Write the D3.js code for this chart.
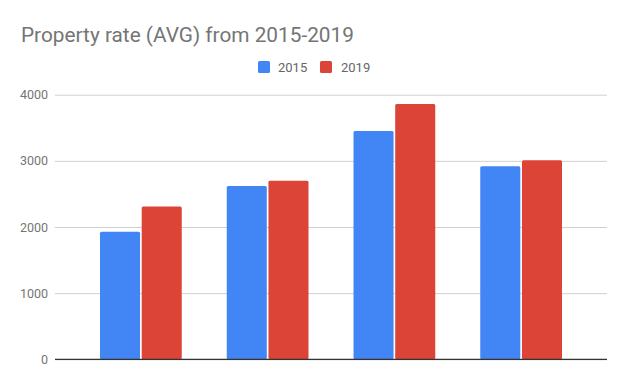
<!DOCTYPE html>
<html>
<head>
<meta charset="utf-8">
<script src="https://cdn.jsdelivr.net/npm/d3@7"></script>
<style>
  body { margin: 0; background: #fff; }
  svg { font-family: Roboto, "Noto Sans", sans-serif; }
</style>
</head>
<body>
<svg id="chart" width="628" height="389"></svg>
<script>
// data (no category labels shown)
const categories = ['A', 'B', 'C', 'D'];
const seriesNames = ['2015', '2019'];
const values2015 = [1930, 2620, 3450, 2920];
const values2019 = [2310, 2700, 3860, 3010];
const yTicks = [0, 1000, 2000, 3000, 4000];
const colors = ['#4285F4', '#DB4437'];

const svg = d3.select('#chart');
const plotLeft = 55, plotRight = 607, plotTop = 94.7, plotBottom = 359.3;

const x0 = d3.scaleBand().domain(categories).range([plotLeft, plotRight]).padding(0.355);
const x1 = d3.scaleBand().domain(seriesNames).range([0, x0.bandwidth()]).paddingInner(0.04);
const y = d3.scaleLinear().domain([0, 4000]).range([plotBottom, plotTop]);

// title
svg.append('text')
  .attr('x', 21).attr('y', 42)
  .attr('font-size', 20.8)
  .attr('fill', '#757575')
  .text('Property rate (AVG) from 2015-2019');

// legend
const legend = svg.append('g');
const legendItems = [[258, 278], [320, 341]];
seriesNames.forEach((name, i) => {
  legend.append('rect')
    .attr('x', legendItems[i][0]).attr('y', 61)
    .attr('width', 12).attr('height', 12).attr('rx', 1.5)
    .attr('fill', colors[i]);
  legend.append('text')
    .attr('x', legendItems[i][1]).attr('y', 72)
    .attr('font-size', 13).attr('fill', '#666')
    .text(name);
});

// gridlines + y labels
const yAxis = d3.axisLeft(y).tickValues(yTicks).tickFormat(d3.format('d'))
  .tickSize(-(plotRight - plotLeft)).tickPadding(7);
const gy = svg.append('g').attr('transform', `translate(${plotLeft},0)`).call(yAxis);
gy.select('.domain').remove();
gy.selectAll('.tick line').attr('stroke', '#d0d0d0');
gy.selectAll('.tick text').attr('font-size', 12.5).attr('fill', '#757575')
  .attr('font-family', 'Roboto, sans-serif');

// bars
const rows = categories.map((c, i) => ({ cat: c, vals: [values2015[i], values2019[i]] }));
svg.append('g').selectAll('g')
  .data(rows)
  .join('g')
  .attr('transform', d => `translate(${x0(d.cat)},0)`)
  .selectAll('rect')
  .data(d => d.vals.map((v, i) => ({ key: seriesNames[i], v, i })))
  .join('rect')
  .attr('x', d => x1(d.key))
  .attr('y', d => y(d.v))
  .attr('width', x1.bandwidth())
  .attr('height', d => y(0) - y(d.v))
  .attr('rx', 1.5)
  .attr('fill', d => colors[d.i]);

// baseline
svg.append('line')
  .attr('x1', plotLeft).attr('x2', plotRight)
  .attr('y1', y(0)).attr('y2', y(0))
  .attr('stroke', '#333').attr('stroke-width', 1.2);
</script>
</body>
</html>
